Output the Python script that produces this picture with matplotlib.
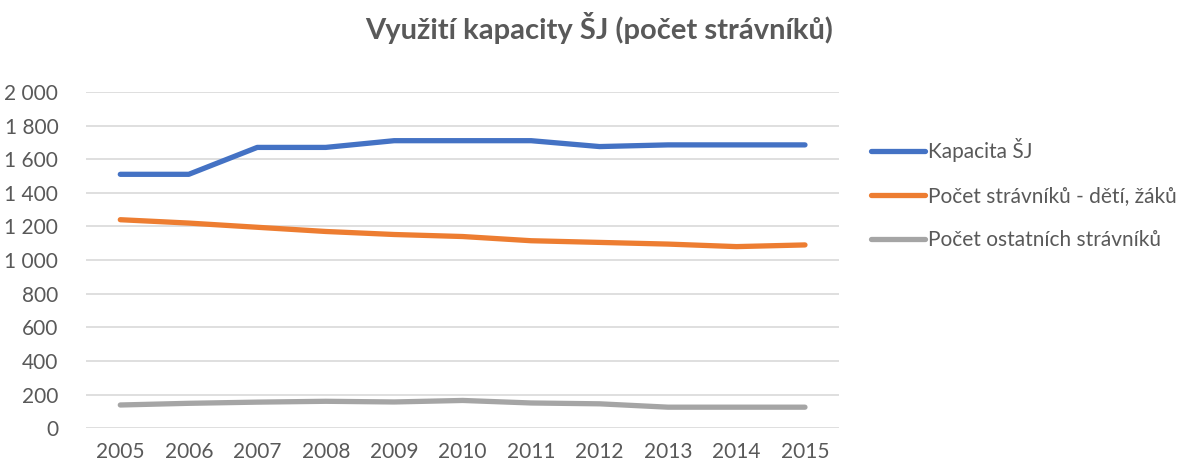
import numpy as np
import matplotlib.pyplot as plt

# data
years = ["2005", "2006", "2007", "2008", "2009", "2010", "2011", "2012", "2013", "2014", "2015"]
kapacita = [1510, 1510, 1670, 1670, 1710, 1710, 1710, 1675, 1685, 1685, 1685]
deti_zaci = [1240, 1220, 1195, 1170, 1152, 1140, 1115, 1105, 1095, 1080, 1090]
ostatni = [138, 148, 155, 160, 156, 165, 150, 145, 125, 125, 125]
series_names = ["Kapacita ŠJ", "Počet strávníků - dětí, žáků", "Počet ostatních strávníků"]
colors = ["#4472C4", "#ED7D31", "#A5A5A5"]

plt.rcParams['font.family'] = ['Lato', 'DejaVu Sans']
text_col = "#595959"

fig = plt.figure(figsize=(11.87, 4.69), dpi=100)
ax = fig.add_axes([0.0725, 0.087, 0.6345, 0.717])

x = np.arange(len(years))
for vals, name, c in zip([kapacita, deti_zaci, ostatni], series_names, colors):
    ax.plot(x, vals, color=c, lw=3.8, solid_capstyle='round', solid_joinstyle='round', label=name)

ax.set_xlim(-0.5, len(years) - 0.5)
ax.set_ylim(0, 2000)
ax.set_yticks(range(0, 2001, 200))
ax.set_yticklabels([f"{v:,}".replace(",", " ") for v in range(0, 2001, 200)])
ax.set_xticks(x)
ax.set_xticklabels(years)
ax.grid(axis='y', color='#D9D9D9', lw=1.2)
ax.set_axisbelow(True)
for s in ax.spines.values():
    s.set_visible(False)
ax.tick_params(length=0, labelsize=15, colors=text_col, pad=10)
ax.tick_params(axis='y', pad=20)

fig.suptitle("Využití kapacity ŠJ (počet strávníků)", x=0.505, y=0.975,
             fontsize=21, fontweight='bold', color=text_col)

leg = fig.legend(loc='upper left', bbox_to_anchor=(0.718, 0.745), frameon=False,
                 fontsize=15, handlelength=2.6, handletextpad=0.15, labelspacing=1.15)
for t in leg.get_texts():
    t.set_color(text_col)

fig.savefig("out.png", dpi=100)
